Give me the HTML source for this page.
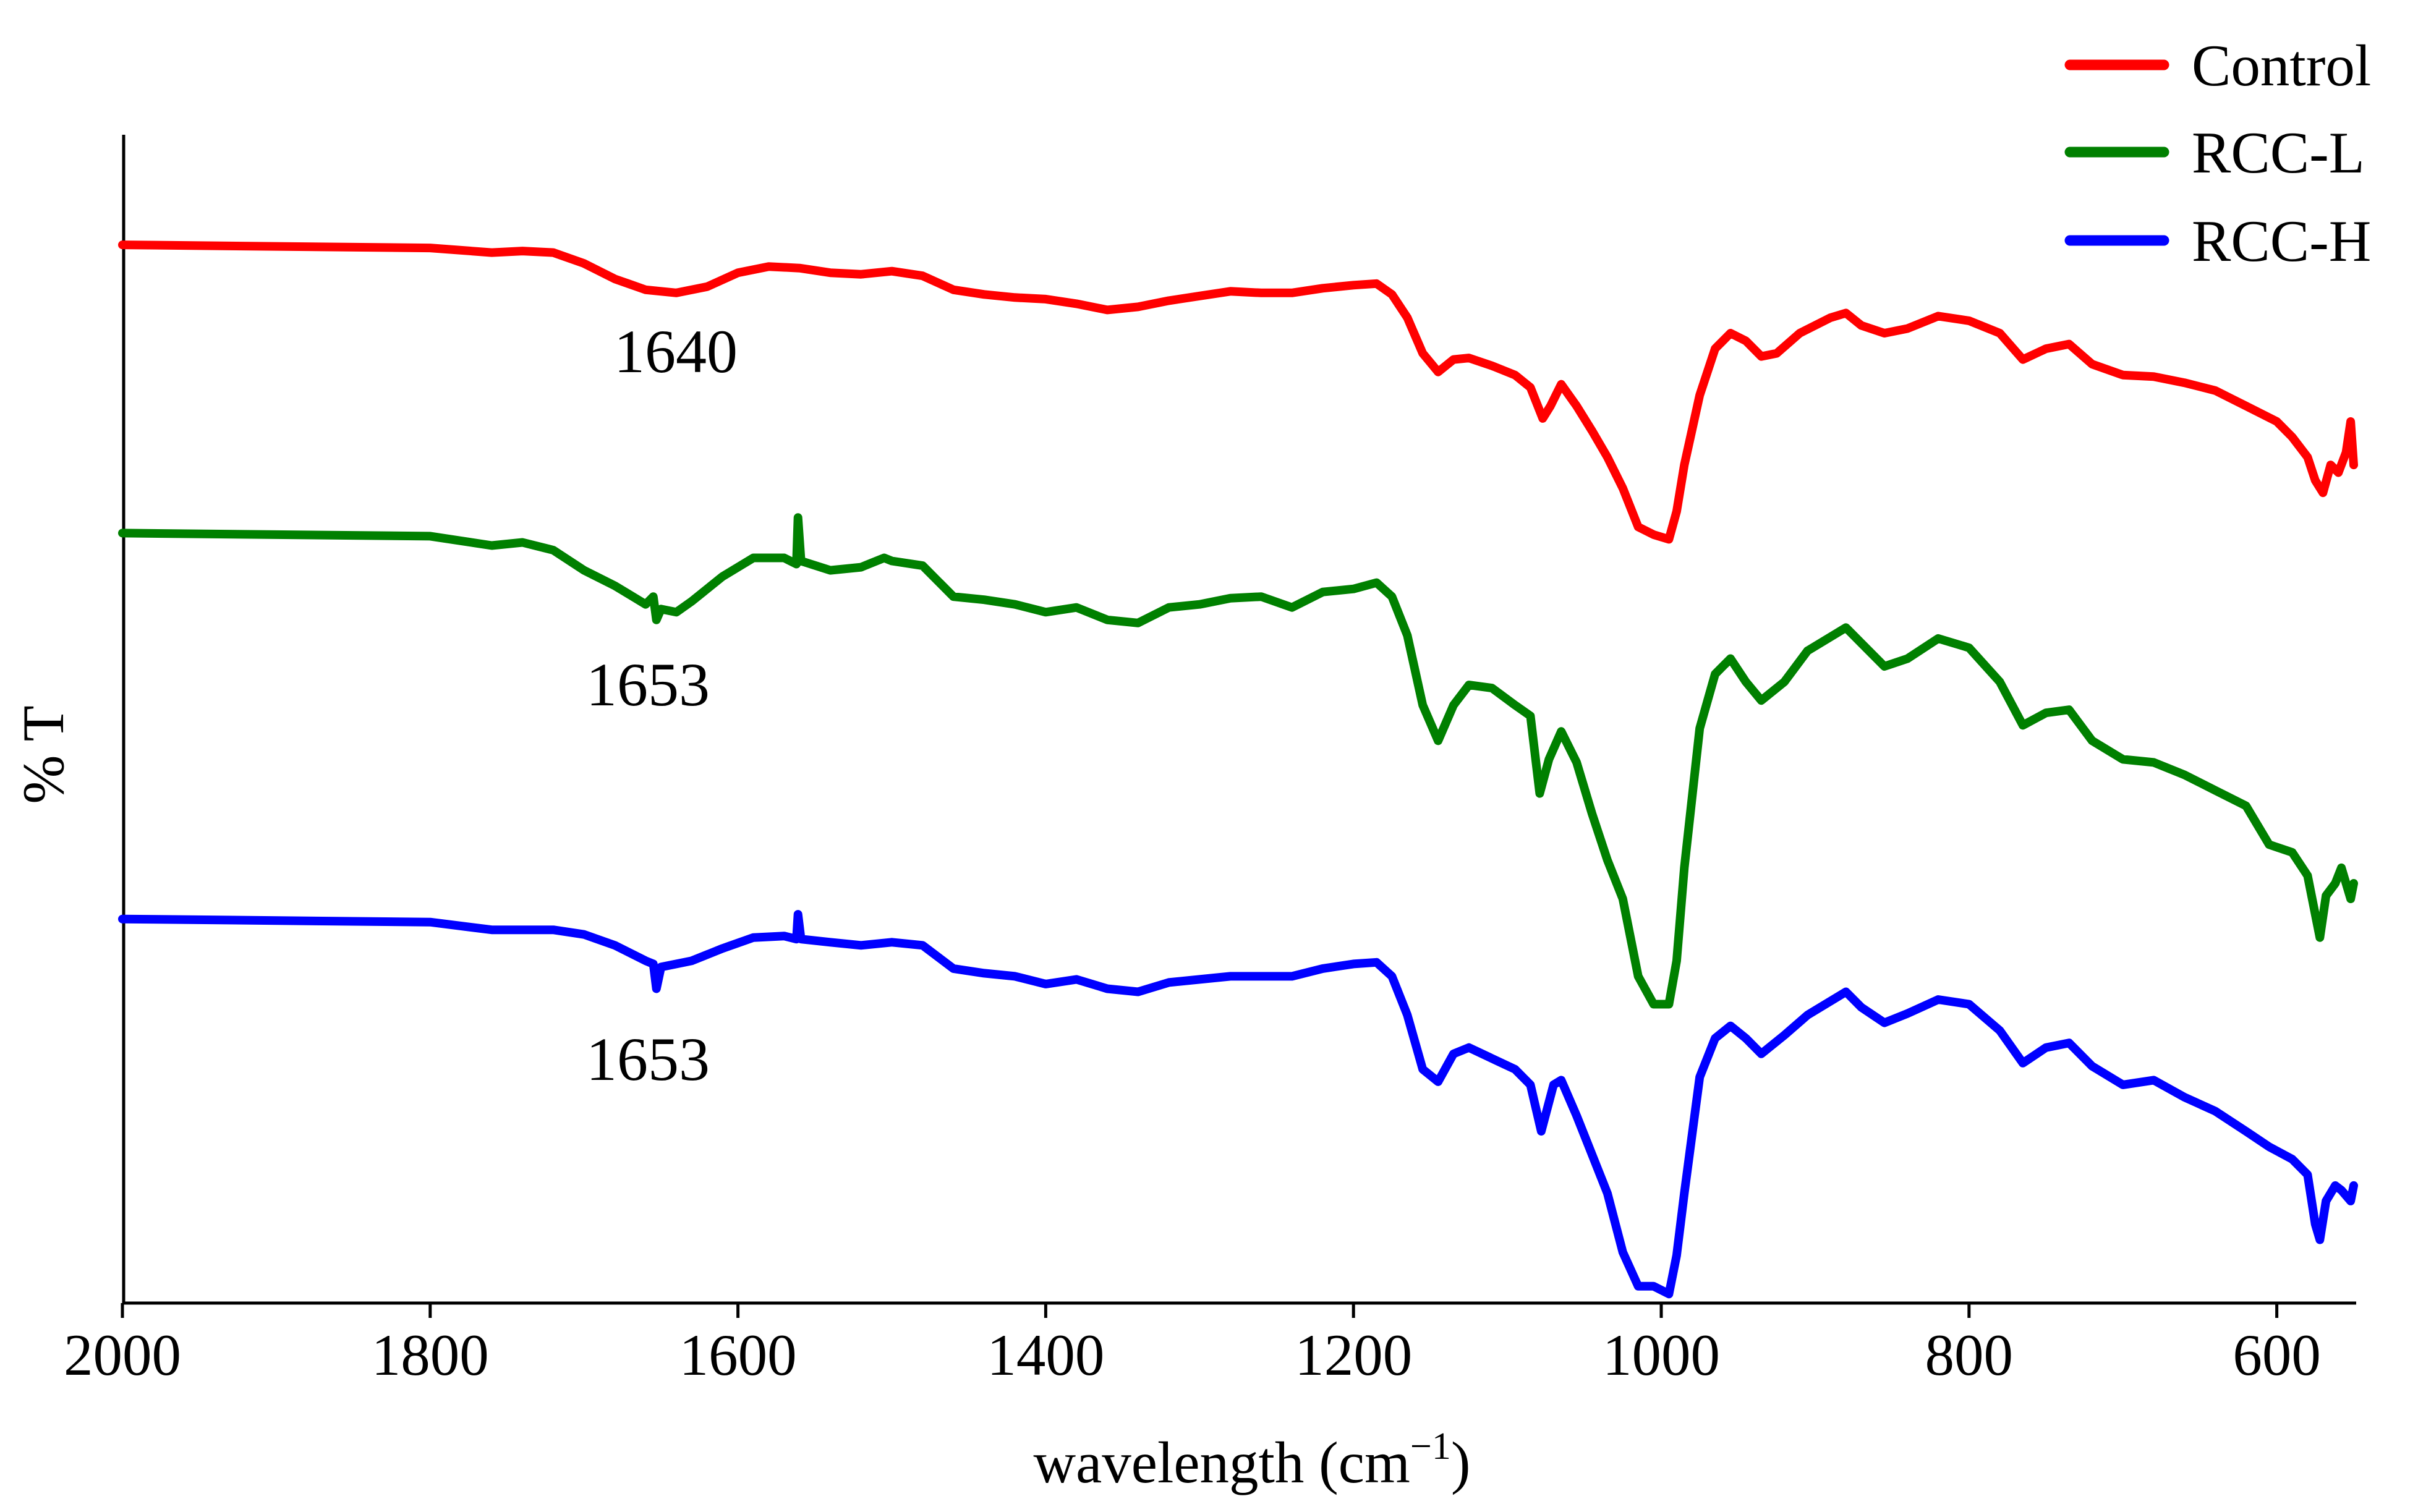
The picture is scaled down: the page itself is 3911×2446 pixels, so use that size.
<!DOCTYPE html>
<html><head><meta charset="utf-8"><style>
html,body{margin:0;padding:0;background:#fff;}
svg{display:block;font-family:"Liberation Serif",serif;}
</style></head><body>
<svg id="chart" width="3911" height="2446" viewBox="0 0 3911 2446" xmlns="http://www.w3.org/2000/svg">
<g id="axes"></g>
<g id="series"></g>
<g id="labels"></g>
</svg>
<script>
const xTicks = [2000,1800,1600,1400,1200,1000,800,600];
const controlWn = [2000,1800,1760,1740,1720,1700,1680,1660,1640,1620,1600,1580,1560,1540,1520,1500,1480,1460,1440,1420,1400,1380,1360,1340,1320,1300,1280,1260,1240,1220,1200,1185,1175,1165,1155,1145,1135,1125,1110,1095,1085,1077,1072,1065,1055,1045,1035,1025,1015,1005,995,990,985,975,965,955,945,935,925,910,890,880,870,855,840,820,800,780,765,750,735,720,700,680,660,640,620,600,590,580,575,570,565,560,555,552,550];
const controlY = [158,160,163,162,163,170,180,187,189,185,176,172,173,176,177,175,178,187,190,192,193,196,200,198,194,191,188,189,189,186,184,183,190,205,228,240,232,231,236,242,250,270,262,248,262,278,295,315,340,345,348,330,300,255,225,215,220,230,228,215,205,202,210,215,212,204,207,215,232,225,222,235,242,243,247,252,262,272,282,295,310,318,300,305,292,272,300];
const rccLWn = [2000,1800,1760,1740,1720,1700,1680,1660,1655,1653,1650,1640,1630,1610,1590,1570,1562,1561,1559,1540,1520,1510,1505,1500,1480,1460,1440,1420,1400,1380,1360,1340,1320,1300,1280,1260,1240,1220,1200,1185,1175,1165,1155,1145,1135,1125,1110,1095,1085,1079,1073,1065,1055,1045,1035,1025,1015,1005,995,990,985,975,965,955,945,935,920,905,880,870,855,840,820,800,780,765,750,735,720,700,680,660,640,620,605,590,580,575,572,568,562,558,552,550];
const rccLY = [344,346,352,350,355,368,378,390,385,400,393,395,388,372,360,360,364,334,362,368,366,362,360,362,365,385,387,390,395,392,400,402,392,390,386,385,392,382,380,376,385,410,455,478,455,442,444,455,462,512,490,472,492,525,555,580,630,648,648,620,560,470,435,425,440,452,440,420,405,415,430,425,412,418,440,468,460,458,478,490,492,500,510,520,545,550,565,590,605,578,570,560,580,570];
const rccHWn = [2000,1800,1760,1720,1700,1680,1660,1655,1653,1650,1630,1610,1590,1570,1562,1561,1559,1540,1520,1500,1480,1460,1440,1420,1400,1380,1360,1340,1320,1300,1280,1240,1220,1200,1185,1175,1165,1155,1145,1135,1125,1110,1095,1085,1078,1070,1065,1055,1045,1035,1025,1015,1005,995,990,985,975,965,955,945,935,920,905,880,870,855,840,820,800,780,765,750,735,720,700,680,660,640,620,605,590,580,575,572,568,562,558,552,550];
const rccHY = [593,595,600,600,603,610,620,622,638,624,620,612,605,604,606,590,606,608,610,608,610,625,628,630,635,632,638,640,634,632,630,630,625,622,621,630,655,690,698,680,676,683,690,700,730,700,697,720,745,770,808,830,830,835,810,770,695,670,662,670,680,668,655,640,650,660,654,645,648,665,686,676,673,688,700,697,708,717,730,740,748,758,790,800,775,765,768,775,765];

const NS='http://www.w3.org/2000/svg';
const X0=198, PXPER=2.489, YS=2.507;
function xs(wn){return X0+(2000-wn)*PXPER;}
function ys(d){return d*YS;}
function mk(tag,attrs,parent){const e=document.createElementNS(NS,tag);for(const k in attrs)e.setAttribute(k,attrs[k]);parent.appendChild(e);return e;}

const axes=document.getElementById('axes');
const yAxis=mk('line',{x1:200,y1:218,x2:200,y2:2110,stroke:'#000','stroke-width':5},axes);


const xAxis=mk('line',{x1:198,y1:2108,x2:3811,y2:2108,stroke:'#000','stroke-width':5},axes);


xTicks.forEach(t=>{
  const tk=mk('line',{x1:xs(t),y1:2108,x2:xs(t),y2:2132,stroke:'#000','stroke-width':5},axes);
  
  
  const lb=mk('text',{x:xs(t),y:2224,'font-size':95,'text-anchor':'middle',fill:'#000'},axes);
  lb.textContent=t;
  
  
});

const ser=document.getElementById('series');
function drawSeries(wn,yv,color,name){
  let d='';
  for(let i=0;i<wn.length;i++){d+=(i?'L':'M')+xs(wn[i]).toFixed(1)+','+ys(yv[i]).toFixed(1);}
  const p=mk('path',{d:d,fill:'none',stroke:color,'stroke-width':14,'stroke-linejoin':'round','stroke-linecap':'round'},ser);
  
  
}
drawSeries(controlWn,controlY,'#ff0000','control-line');
drawSeries(rccLWn,rccLY,'#008000','rcc-l-line');
drawSeries(rccHWn,rccHY,'#0000ff','rcc-h-line');

const lab=document.getElementById('labels');
const legend=[['Control','#ff0000',105],['RCC-L','#008000',246],['RCC-H','#0000ff',389]];
legend.forEach(l=>{
  const ln=mk('line',{x1:3348,y1:l[2],x2:3500,y2:l[2],stroke:l[1],'stroke-width':17,'stroke-linecap':'round'},lab);
  
  
  const tx=mk('text',{x:3545,y:l[2]+33,'font-size':95,fill:'#000'},lab);
  tx.textContent=l[0];
  
  
});
const ann=[['1640',1093,602],['1653',1048,1141],['1653',1048,1747]];
ann.forEach(a=>{
  const t=mk('text',{x:a[1],y:a[2],'font-size':100,'text-anchor':'middle',fill:'#000'},lab);
  t.textContent=a[0];
  
  
});
const xl=mk('text',{x:2025,y:2398,'font-size':95,'text-anchor':'middle',fill:'#000'},lab);
xl.innerHTML='wavelength (cm<tspan dy="-38" font-size="62">−1</tspan><tspan dy="38">)</tspan>';


const yl=mk('text',{x:0,y:0,'font-size':95,'text-anchor':'middle',fill:'#000',transform:'translate(102,1221) rotate(-90)'},lab);
yl.textContent='% T';


</script>
</body></html>
